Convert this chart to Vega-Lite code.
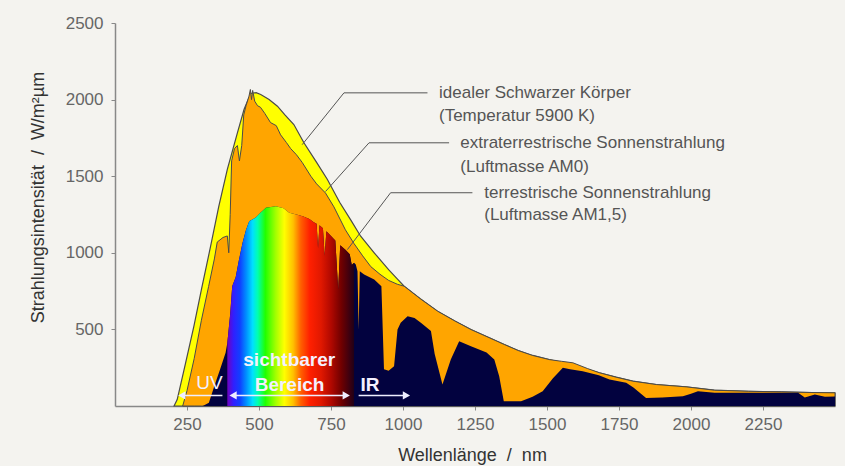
{
  "$schema": "https://vega.github.io/schema/vega-lite/v6.json",
  "width": 720,
  "height": 383,
  "autosize": {"type": "none"},
  "padding": {"left": 115, "top": 23, "right": 10, "bottom": 60},
  "background": "#f4f3ef",
  "config": {"view": {"stroke": null}, "font": "Liberation Sans"},
  "datasets": {
    "bb": [
      {"nm": 205, "v": 0}, {"nm": 216, "v": 42}, {"nm": 245, "v": 280}, {"nm": 274, "v": 521},
      {"nm": 300, "v": 760}, {"nm": 332, "v": 1043}, {"nm": 360, "v": 1300}, {"nm": 390, "v": 1544},
      {"nm": 425, "v": 1783}, {"nm": 448, "v": 1935}, {"nm": 471, "v": 2040}, {"nm": 490, "v": 2045},
      {"nm": 506, "v": 2033}, {"nm": 535, "v": 2000}, {"nm": 564, "v": 1957}, {"nm": 590, "v": 1900},
      {"nm": 621, "v": 1837}, {"nm": 656, "v": 1718}, {"nm": 700, "v": 1590}, {"nm": 737, "v": 1480},
      {"nm": 780, "v": 1330}, {"nm": 820, "v": 1210}, {"nm": 853, "v": 1108}, {"nm": 900, "v": 1000},
      {"nm": 950, "v": 890}, {"nm": 980, "v": 830}, {"nm": 1004, "v": 782}, {"nm": 1060, "v": 700},
      {"nm": 1120, "v": 619}, {"nm": 1180, "v": 555}, {"nm": 1236, "v": 499}, {"nm": 1300, "v": 445},
      {"nm": 1352, "v": 401}, {"nm": 1400, "v": 362}, {"nm": 1450, "v": 330}, {"nm": 1508, "v": 303},
      {"nm": 1550, "v": 285}, {"nm": 1590, "v": 270}, {"nm": 1640, "v": 240}, {"nm": 1682, "v": 217},
      {"nm": 1740, "v": 188}, {"nm": 1798, "v": 162}, {"nm": 1880, "v": 140}, {"nm": 1983, "v": 125},
      {"nm": 2081, "v": 103}, {"nm": 2200, "v": 96}, {"nm": 2314, "v": 92}, {"nm": 2420, "v": 88},
      {"nm": 2500, "v": 86}
    ],
    "am0": [
      {"nm": 235, "v": 0}, {"nm": 250, "v": 100}, {"nm": 275, "v": 310}, {"nm": 300, "v": 560},
      {"nm": 325, "v": 780}, {"nm": 345, "v": 960}, {"nm": 355, "v": 1070}, {"nm": 375, "v": 1100},
      {"nm": 390, "v": 1110}, {"nm": 395, "v": 1000}, {"nm": 400, "v": 1250}, {"nm": 405, "v": 1600},
      {"nm": 415, "v": 1680}, {"nm": 425, "v": 1700}, {"nm": 432, "v": 1600}, {"nm": 440, "v": 1700},
      {"nm": 447, "v": 1900}, {"nm": 455, "v": 1960}, {"nm": 465, "v": 2020}, {"nm": 470, "v": 2066},
      {"nm": 474, "v": 2000}, {"nm": 478, "v": 2060}, {"nm": 485, "v": 1990}, {"nm": 495, "v": 1960},
      {"nm": 505, "v": 1950}, {"nm": 520, "v": 1910}, {"nm": 540, "v": 1850}, {"nm": 560, "v": 1830},
      {"nm": 575, "v": 1770}, {"nm": 595, "v": 1720}, {"nm": 610, "v": 1680}, {"nm": 630, "v": 1640},
      {"nm": 650, "v": 1590}, {"nm": 680, "v": 1500}, {"nm": 700, "v": 1450}, {"nm": 731, "v": 1390},
      {"nm": 760, "v": 1300}, {"nm": 800, "v": 1150}, {"nm": 830, "v": 1060}, {"nm": 860, "v": 980},
      {"nm": 888, "v": 910}, {"nm": 920, "v": 860}, {"nm": 950, "v": 820}, {"nm": 980, "v": 795},
      {"nm": 1004, "v": 782}, {"nm": 1060, "v": 700},
      {"nm": 1120, "v": 619}, {"nm": 1180, "v": 555}, {"nm": 1236, "v": 499}, {"nm": 1300, "v": 445},
      {"nm": 1352, "v": 401}, {"nm": 1400, "v": 362}, {"nm": 1450, "v": 330}, {"nm": 1508, "v": 303},
      {"nm": 1550, "v": 292}, {"nm": 1590, "v": 282}, {"nm": 1640, "v": 245}, {"nm": 1682, "v": 217},
      {"nm": 1740, "v": 188}, {"nm": 1798, "v": 162}, {"nm": 1880, "v": 140}, {"nm": 1983, "v": 125},
      {"nm": 2081, "v": 103}, {"nm": 2200, "v": 96}, {"nm": 2314, "v": 92}, {"nm": 2420, "v": 88},
      {"nm": 2500, "v": 86}
    ],
    "am15": [
      {"nm": 305, "v": 0}, {"nm": 326, "v": 21}, {"nm": 345, "v": 130}, {"nm": 365, "v": 240},
      {"nm": 384, "v": 347}, {"nm": 390, "v": 412}, {"nm": 400, "v": 600}, {"nm": 407, "v": 782},
      {"nm": 419, "v": 840}, {"nm": 430, "v": 950}, {"nm": 443, "v": 1065}, {"nm": 455, "v": 1150},
      {"nm": 466, "v": 1206}, {"nm": 489, "v": 1230}, {"nm": 505, "v": 1262}, {"nm": 524, "v": 1294},
      {"nm": 559, "v": 1304}, {"nm": 585, "v": 1290}, {"nm": 605, "v": 1261}, {"nm": 630, "v": 1250},
      {"nm": 652, "v": 1239}, {"nm": 675, "v": 1220}, {"nm": 690, "v": 1200}, {"nm": 700, "v": 1190},
      {"nm": 705, "v": 1030}, {"nm": 710, "v": 1180}, {"nm": 722, "v": 1160}, {"nm": 728, "v": 980},
      {"nm": 734, "v": 1140}, {"nm": 750, "v": 1110}, {"nm": 765, "v": 1080}, {"nm": 775, "v": 760},
      {"nm": 782, "v": 1050}, {"nm": 800, "v": 1020}, {"nm": 815, "v": 990}, {"nm": 822, "v": 920},
      {"nm": 830, "v": 935}, {"nm": 836, "v": 923}, {"nm": 842, "v": 880}, {"nm": 846, "v": 500},
      {"nm": 850, "v": 880}, {"nm": 865, "v": 858}, {"nm": 900, "v": 826}, {"nm": 925, "v": 782},
      {"nm": 934, "v": 240}, {"nm": 950, "v": 230}, {"nm": 969, "v": 260}, {"nm": 981, "v": 500},
      {"nm": 992, "v": 543}, {"nm": 1016, "v": 586}, {"nm": 1040, "v": 575}, {"nm": 1062, "v": 543},
      {"nm": 1097, "v": 490}, {"nm": 1110, "v": 340}, {"nm": 1137, "v": 140}, {"nm": 1166, "v": 304},
      {"nm": 1195, "v": 423}, {"nm": 1236, "v": 390}, {"nm": 1290, "v": 350}, {"nm": 1317, "v": 304},
      {"nm": 1334, "v": 195}, {"nm": 1350, "v": 31}, {"nm": 1410, "v": 31}, {"nm": 1450, "v": 60},
      {"nm": 1485, "v": 97}, {"nm": 1520, "v": 180}, {"nm": 1555, "v": 250}, {"nm": 1580, "v": 240},
      {"nm": 1624, "v": 227}, {"nm": 1680, "v": 200}, {"nm": 1717, "v": 173}, {"nm": 1775, "v": 151},
      {"nm": 1800, "v": 120}, {"nm": 1844, "v": 53}, {"nm": 1900, "v": 55}, {"nm": 1972, "v": 64},
      {"nm": 2000, "v": 80}, {"nm": 2024, "v": 97}, {"nm": 2082, "v": 86}, {"nm": 2200, "v": 86},
      {"nm": 2372, "v": 86}, {"nm": 2395, "v": 55}, {"nm": 2430, "v": 75}, {"nm": 2465, "v": 60},
      {"nm": 2500, "v": 62}
    ],
    "leaders": [
      {"id": 1, "o": 1, "nm": 650, "v": 1706}, {"id": 1, "o": 2, "nm": 795, "v": 2044}, {"id": 1, "o": 3, "nm": 1085, "v": 2044},
      {"id": 2, "o": 1, "nm": 731, "v": 1400}, {"id": 2, "o": 2, "nm": 882, "v": 1718}, {"id": 2, "o": 3, "nm": 1160, "v": 1718},
      {"id": 3, "o": 1, "nm": 807, "v": 1021}, {"id": 3, "o": 2, "nm": 957, "v": 1392}, {"id": 3, "o": 3, "nm": 1241, "v": 1392}
    ],
    "labels": [
      {"nm": 1125, "v": 2044, "t": "idealer Schwarzer Körper"},
      {"nm": 1125, "v": 1892, "t": "(Temperatur 5900 K)"},
      {"nm": 1199, "v": 1718, "t": "extraterrestrische Sonnenstrahlung"},
      {"nm": 1199, "v": 1561, "t": "(Luftmasse AM0)"},
      {"nm": 1282, "v": 1392, "t": "terrestrische Sonnenstrahlung"},
      {"nm": 1282, "v": 1250, "t": "(Luftmasse AM1,5)"}
    ],
    "bandText": [
      {"nm": 328, "v": 147, "t": "UV", "w": "normal"},
      {"nm": 605, "v": 303, "t": "sichtbarer", "w": "bold"},
      {"nm": 606, "v": 140, "t": "Bereich", "w": "bold"},
      {"nm": 885, "v": 140, "t": "IR", "w": "bold"}
    ],
    "arrows": [
      {"nm": 232, "nm2": 373, "v": 69},
      {"nm": 410, "nm2": 803, "v": 69},
      {"nm": 846, "nm2": 1012, "v": 69}
    ],
    "heads": [
      {"nm": 232, "v": 69, "s": "triangle-left"},
      {"nm": 410, "v": 69, "s": "triangle-left"},
      {"nm": 803, "v": 69, "s": "triangle-right"},
      {"nm": 1012, "v": 69, "s": "triangle-right"}
    ]
  },
  "encoding": {
    "x": {
      "field": "nm", "type": "quantitative",
      "scale": {"domain": [0, 2500], "nice": false, "zero": false},
      "axis": {
        "title": "Wellenlänge\u00a0 /\u00a0 nm", "values": [250, 500, 750, 1000, 1250, 1500, 1750, 2000, 2250],
        "format": "d",
        "grid": false, "labelFontSize": 17, "labelColor": "#666", "labelPadding": 6,
        "tickSize": 4, "tickColor": "#888", "domainColor": "#888", "domainWidth": 1.5,
        "titleFontSize": 18, "titleFontWeight": "normal", "titleColor": "#333",
        "titleY": 49, "titleX": 357, "titleBaseline": "middle", "titleAlign": "center"
      }
    },
    "y": {
      "field": "v", "type": "quantitative",
      "scale": {"domain": [0, 2500], "nice": false},
      "axis": {
        "title": "Strahlungsintensität\u00a0 /\u00a0 W/m²µm", "values": [500, 1000, 1500, 2000, 2500],
        "format": "d",
        "grid": false, "labelFontSize": 17, "labelColor": "#666", "labelPadding": 8,
        "tickSize": 4, "tickColor": "#888", "domainColor": "#888", "domainWidth": 1.5,
        "titleFontSize": 18, "titleFontWeight": "normal", "titleColor": "#333",
        "titleX": -77, "titleY": 174, "titleBaseline": "middle", "titleAlign": "center", "titleAngle": -90
      }
    }
  },
  "layer": [
    {"data": {"name": "bb"}, "mark": {"type": "area", "fill": "#ffff00", "stroke": "#4a4a4a", "strokeWidth": 1.2, "fillOpacity": 1}},
    {"data": {"name": "am0"}, "mark": {"type": "area", "fill": "#ffa500", "stroke": "#4a4a4a", "strokeWidth": 1, "fillOpacity": 1}},
    {"data": {"name": "am15"}, "mark": {"type": "area", "fill": "#02023f", "fillOpacity": 1}},
    {
      "data": {"name": "am15"},
      "transform": [{"filter": "datum.nm >= 390 && datum.nm <= 830"}],
      "mark": {
        "type": "area", "fillOpacity": 1,
        "fill": {
          "gradient": "linear", "x1": 0, "x2": 1, "y1": 0, "y2": 0,
          "stops": [
            {"offset": 0.0, "color": "#7000c0"},
            {"offset": 0.05, "color": "#3020ff"},
            {"offset": 0.10, "color": "#1040ff"},
            {"offset": 0.15, "color": "#0090ff"},
            {"offset": 0.20, "color": "#00e0ff"},
            {"offset": 0.24, "color": "#00ffb0"},
            {"offset": 0.30, "color": "#20ff00"},
            {"offset": 0.38, "color": "#a0ff00"},
            {"offset": 0.45, "color": "#ffff00"},
            {"offset": 0.52, "color": "#ffc000"},
            {"offset": 0.58, "color": "#ff6000"},
            {"offset": 0.65, "color": "#ff2000"},
            {"offset": 0.74, "color": "#e01800"},
            {"offset": 0.82, "color": "#b00800"},
            {"offset": 0.90, "color": "#700000"},
            {"offset": 1.0, "color": "#200018"}
          ]
        }
      }
    },
    {
      "data": {"name": "leaders"},
      "mark": {"type": "line", "stroke": "#555", "strokeWidth": 1},
      "encoding": {"detail": {"field": "id"}, "order": {"field": "o", "type": "quantitative"}}
    },
    {
      "data": {"name": "labels"},
      "mark": {"type": "text", "align": "left", "baseline": "middle", "fontSize": 17, "color": "#555"},
      "encoding": {"text": {"field": "t"}}
    },
    {
      "data": {"name": "arrows"},
      "mark": {"type": "rule", "stroke": "#eeeeff", "strokeWidth": 1.5},
      "encoding": {"x2": {"field": "nm2"}}
    },
    {
      "data": {"name": "heads"},
      "mark": {"type": "point", "filled": true, "color": "#eeeeff", "size": 70, "opacity": 1},
      "encoding": {"shape": {"field": "s", "type": "nominal", "scale": null}}
    },
    {
      "data": {"name": "bandText"},
      "transform": [{"filter": "datum.w == 'bold'"}],
      "mark": {"type": "text", "align": "center", "baseline": "middle", "fontSize": 19, "fontWeight": "bold", "color": "#f4f0ff"},
      "encoding": {"text": {"field": "t"}}
    },
    {
      "data": {"name": "bandText"},
      "transform": [{"filter": "datum.w == 'normal'"}],
      "mark": {"type": "text", "align": "center", "baseline": "middle", "fontSize": 19, "fontWeight": "normal", "color": "#f4f0ff"},
      "encoding": {"text": {"field": "t"}}
    }
  ]
}
